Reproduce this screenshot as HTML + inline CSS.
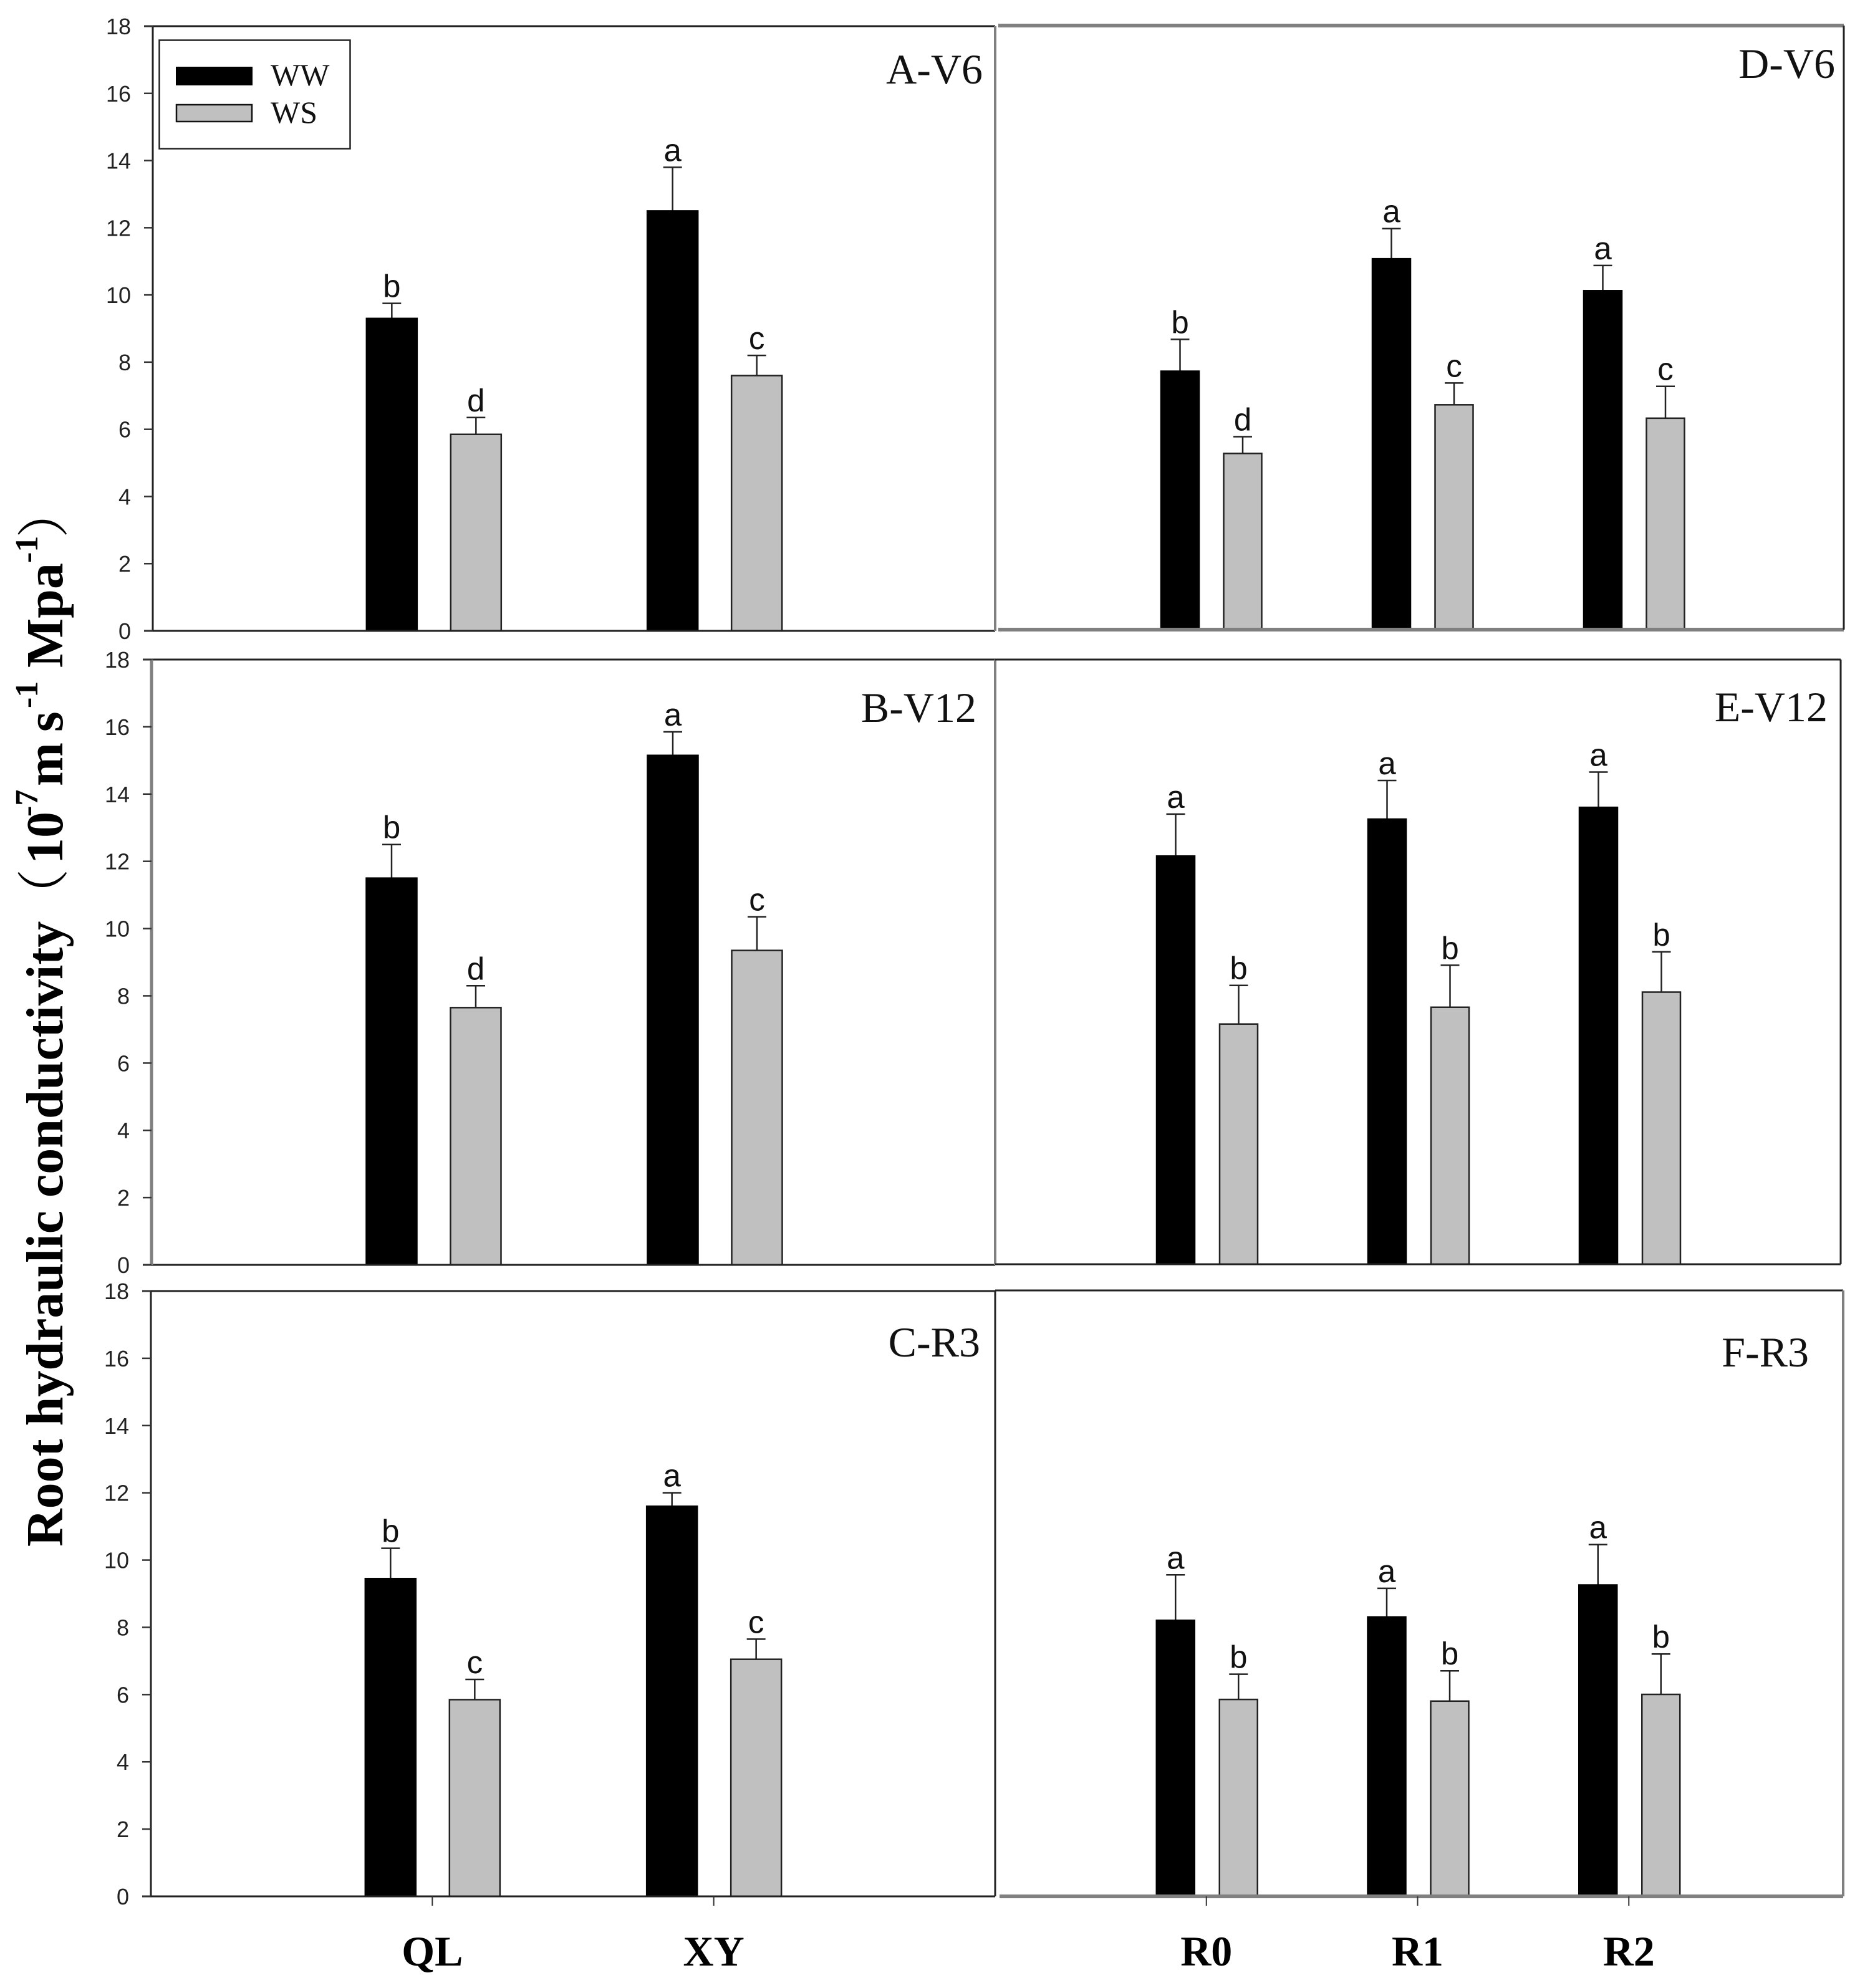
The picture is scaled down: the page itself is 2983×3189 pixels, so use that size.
<!DOCTYPE html>
<html lang="en">
<head>
<meta charset="utf-8">
<title>Root hydraulic conductivity</title>
<style>
html,body{margin:0;padding:0;background:#fff;}
#chart{display:block;width:2983px;height:3189px;}
</style>
</head>
<body>
<svg id="chart" xmlns="http://www.w3.org/2000/svg" width="2983" height="3189" viewBox="0 0 2983 3189">
  <rect x="0" y="0" width="2983" height="3189" fill="#fff"/>
  <g id="panels"></g>
  <text id="ytitle" transform="translate(100,2481) rotate(-90)" font-family="'Liberation Serif','Noto Serif CJK SC',serif" font-weight="700" font-size="84" fill="#000">Root hydraulic conductivity<tspan font-weight="400">（</tspan><tspan x="1095">10</tspan><tspan font-size="52" dy="-40" x="1171">-7</tspan><tspan dy="40" x="1220">m</tspan><tspan x="1307">s</tspan><tspan font-size="52" dy="-40" x="1345">-1</tspan><tspan dy="40" x="1410">Mpa</tspan><tspan font-size="52" dy="-40" x="1578">-1</tspan><tspan dy="40" x="1618" font-weight="400">）</tspan></text>
  <g>
    <rect x="255.5" y="64.5" width="306" height="174" fill="#fff" stroke="#222" stroke-width="2.5"/>
    <rect x="282" y="107" width="123" height="30" fill="#000"/>
    <text x="434" y="137" font-family="'Liberation Serif',serif" font-size="50" fill="#111">WW</text>
    <rect x="283" y="168" width="121" height="27" fill="#c0c0c0" stroke="#111" stroke-width="2.5"/>
    <text x="434" y="197" font-family="'Liberation Serif',serif" font-size="50" fill="#111">WS</text>
  </g>
</svg>
<script>
const yTicks = [0, 2, 4, 6, 8, 10, 12, 14, 16, 18];
const cultivars = ["QL", "XY"];
const rootTreatments = ["R0", "R1", "R2"];

const aWW = [9.3, 12.5];
const aWWErr = [0.45, 1.3];
const aWS = [5.85, 7.6];
const aWSErr = [0.5, 0.6];
const aWWLetters = ["b", "a"];
const aWSLetters = ["d", "c"];

const bWW = [11.5, 15.15];
const bWWErr = [1.0, 0.7];
const bWS = [7.65, 9.35];
const bWSErr = [0.65, 1.0];
const bWWLetters = ["b", "a"];
const bWSLetters = ["d", "c"];

const cWW = [9.45, 11.6];
const cWWErr = [0.9, 0.4];
const cWS = [5.85, 7.05];
const cWSErr = [0.6, 0.6];
const cWWLetters = ["b", "a"];
const cWSLetters = ["c", "c"];

const dWW = [7.7, 11.05, 10.1];
const dWWErr = [0.95, 0.9, 0.75];
const dWS = [5.25, 6.7, 6.3];
const dWSErr = [0.5, 0.65, 0.95];
const dWWLetters = ["b", "a", "a"];
const dWSLetters = ["d", "c", "c"];

const eWW = [12.15, 13.25, 13.6];
const eWWErr = [1.25, 1.15, 1.05];
const eWS = [7.15, 7.65, 8.1];
const eWSErr = [1.15, 1.25, 1.2];
const eWWLetters = ["a", "a", "a"];
const eWSLetters = ["b", "b", "b"];

const fWW = [8.2, 8.3, 9.25];
const fWWErr = [1.35, 0.85, 1.2];
const fWS = [5.85, 5.8, 6.0];
const fWSErr = [0.75, 0.9, 1.2];
const fWWLetters = ["a", "a", "a"];
const fWSLetters = ["b", "b", "b"];

const SVGNS = "http://www.w3.org/2000/svg";
const root = document.getElementById("panels");

function mk(parent, tag, attrs, text) {
  const el = document.createElementNS(SVGNS, tag);
  for (const k in attrs) el.setAttribute(k, attrs[k]);
  if (text !== undefined) el.textContent = text;
  parent.appendChild(el);
  return el;
}

function drawPanel(p) {
  const g = mk(root, "g", {});
  
  
  const yScale = v => p.bottom - (v / 18) * (p.bottom - p.top);
  const xEnd = p.xEnd || p.right;
  const xScale = i => p.left + (xEnd - p.left) * (i + 1) / (p.cats.length + 1);

  const series = [
    { key: "ww", vals: p.ww, errs: p.wwErr, letters: p.wwLetters, off: p.offWW, fill: "#000", stroke: "#000" },
    { key: "ws", vals: p.ws, errs: p.wsErr, letters: p.wsLetters, off: p.offWS, fill: "#c0c0c0", stroke: "#222" }
  ];
  series.forEach(s => {
    p.cats.forEach((cat, i) => {
      const cx = xScale(i) + s.off;
      const top = yScale(s.vals[i]);
      const errTop = yScale(s.vals[i] + s.errs[i]);
      const stem = mk(g, "line", { x1: cx, x2: cx, y1: top, y2: errTop, stroke: "#222", "stroke-width": 2.5 });
      
      
      const cap = mk(g, "line", { x1: cx - 15, x2: cx + 15, y1: errTop, y2: errTop, stroke: "#222", "stroke-width": 2.5 });
      
      
      const bar = mk(g, "rect", { x: cx - p.barW / 2, y: top, width: p.barW, height: p.bottom - top, fill: s.fill, stroke: s.stroke, "stroke-width": 2.5 });
      
      
      const lab = mk(g, "text", { x: cx, y: errTop - 10, "text-anchor": "middle", "font-family": "'Liberation Sans',sans-serif", "font-size": 51, fill: "#111" }, s.letters[i]);
      
      
    });
  });

  const edges = [
    ["top", p.left - p.tickPad, p.top, p.right, p.top, p.topS],
    ["bottom", p.bottomStart === undefined ? p.left - p.tickPad : p.bottomStart, p.bottom, p.right, p.bottom, p.bottomS],
    ["left", p.left, p.top, p.left, p.bottom, p.leftS],
    ["right", p.right, p.top, p.right, p.bottom, p.rightS]
  ];
  edges.forEach(e => {
    if (!e[5]) return;
    const ln = mk(g, "line", { x1: e[1], y1: e[2], x2: e[3], y2: e[4], stroke: e[5][0], "stroke-width": e[5][1] });
    
    
  });

  if (p.showY) {
    yTicks.forEach(t => {
      const y = yScale(t);
      const tk = mk(g, "line", { x1: p.left - 14, x2: p.left, y1: y, y2: y, stroke: "#333", "stroke-width": 2.5 });
      
      
      const lb = mk(g, "text", { x: p.left - 35, y: y + 13, "text-anchor": "end", "font-family": "'Liberation Sans',sans-serif", "font-size": 36, fill: "#222" }, String(t));
      
      
    });
  }
  if (p.showX) {
    p.cats.forEach((cat, i) => {
      const x = xScale(i);
      const tk = mk(g, "line", { x1: x, x2: x, y1: p.bottom, y2: p.bottom + 15, stroke: "#333", "stroke-width": 2 });
      
      
      const lb = mk(g, "text", { x: x, y: 3153, "text-anchor": "middle", "font-family": "'Liberation Serif',serif", "font-weight": 700, "font-size": 68, fill: "#000" }, cat);
      
      
    });
  }
  const title = mk(g, "text", { x: p.titleX, y: p.titleY, "text-anchor": "end", "font-family": "'Liberation Serif',serif", "font-size": 68, fill: "#111" }, p.title);
  
  
}

const blk = ["#222", 3];
const gry = ["#808080", 4];
const gryT = ["#808080", 6];

drawPanel({ id: "a", title: "A-V6", titleX: 1576, titleY: 134, cats: cultivars, left: 245, right: 1596, top: 42, bottom: 1012, tickPad: 14, barW: 81, offWW: -67, offWS: 68, showY: true, showX: false, ww: aWW, wwErr: aWWErr, ws: aWS, wsErr: aWSErr, wwLetters: aWWLetters, wsLetters: aWSLetters, topS: blk, bottomS: blk, leftS: blk, rightS: gry });
drawPanel({ id: "b", title: "B-V12", titleX: 1566, titleY: 1158, cats: cultivars, left: 243, right: 1596, top: 1058, bottom: 2029, tickPad: 14, barW: 81, offWW: -66, offWS: 69, showY: true, showX: false, ww: bWW, wwErr: bWWErr, ws: bWS, wsErr: bWSErr, wwLetters: bWWLetters, wsLetters: bWSLetters, topS: blk, bottomS: blk, leftS: ["#808080", 5], rightS: gry });
drawPanel({ id: "c", title: "C-R3", titleX: 1572, titleY: 2176, cats: cultivars, left: 242, right: 1596, top: 2071, bottom: 3042, tickPad: 14, barW: 81, offWW: -67, offWS: 68, showY: true, showX: true, ww: cWW, wwErr: cWWErr, ws: cWS, wsErr: cWSErr, wwLetters: cWWLetters, wsLetters: cWSLetters, topS: blk, bottomS: blk, leftS: blk, rightS: blk });
drawPanel({ id: "d", title: "D-V6", titleX: 2943, titleY: 125, cats: rootTreatments, left: 1601, right: 2957, top: 41, bottom: 1010, tickPad: 0, barW: 61, offWW: -47.5, offWS: 53, showY: false, showX: false, ww: dWW, wwErr: dWWErr, ws: dWS, wsErr: dWSErr, wwLetters: dWWLetters, wsLetters: dWSLetters, topS: gryT, bottomS: gryT, leftS: null, rightS: blk });
drawPanel({ id: "e", title: "E-V12", titleX: 2931, titleY: 1157, cats: rootTreatments, left: 1596, right: 2952, top: 1058, bottom: 2028, tickPad: 0, barW: 61, offWW: -49.5, offWS: 51.5, showY: false, showX: false, ww: eWW, wwErr: eWWErr, ws: eWS, wsErr: eWSErr, wwLetters: eWWLetters, wsLetters: eWSLetters, topS: blk, bottomS: blk, leftS: null, rightS: blk });
drawPanel({ id: "f", title: "F-R3", titleX: 2901, titleY: 2192, cats: rootTreatments, left: 1596, right: 2956, xEnd: 2951, top: 2070, bottom: 3042, tickPad: 0, bottomStart: 1603, barW: 61, offWW: -49.5, offWS: 51.5, showY: false, showX: true, ww: fWW, wwErr: fWWErr, ws: fWS, wsErr: fWSErr, wwLetters: fWWLetters, wsLetters: fWSLetters, topS: blk, bottomS: gryT, leftS: null, rightS: gry });
</script>
</body>
</html>
